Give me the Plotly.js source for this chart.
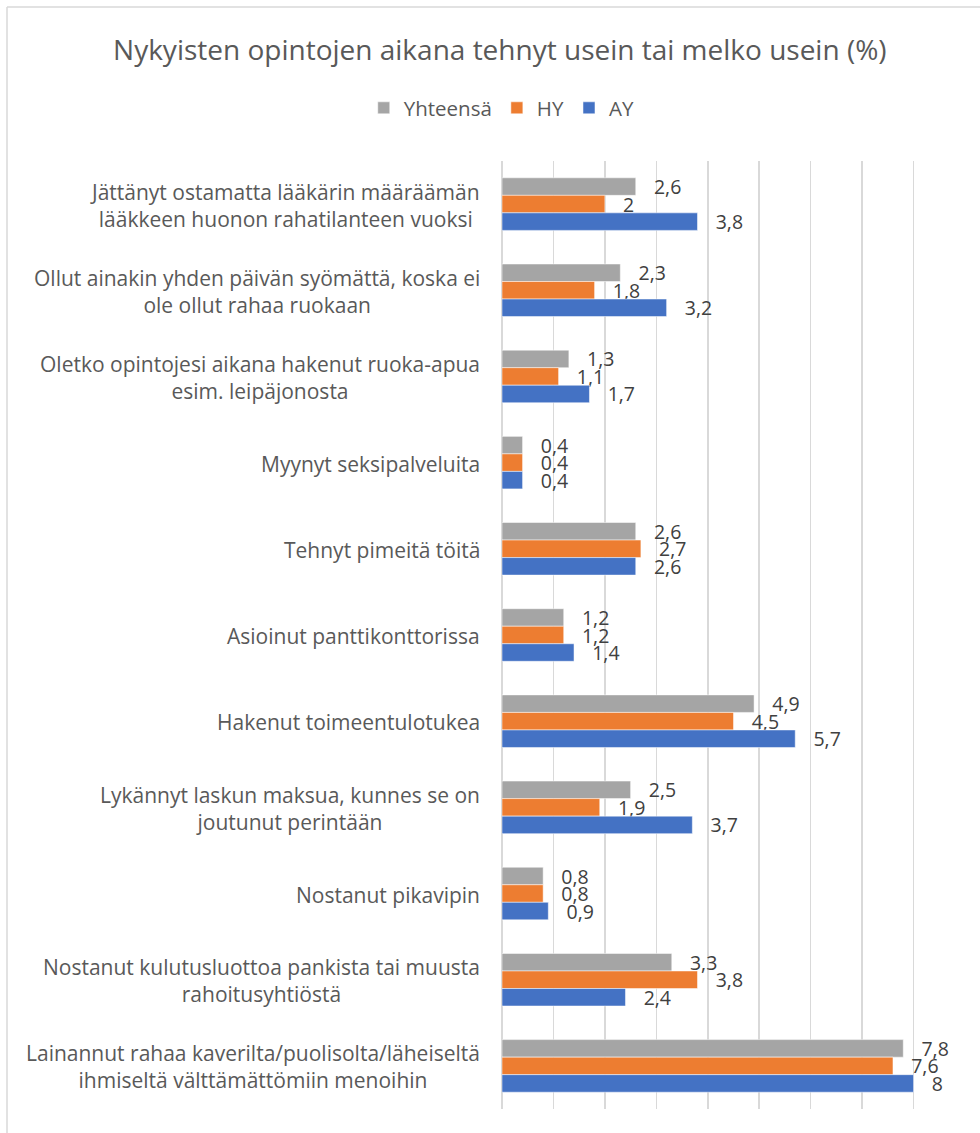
<!DOCTYPE html>
<html><head><meta charset="utf-8">
<script src="https://cdn.plot.ly/plotly-3.0.1.min.js"></script>
<style>html,body{margin:0;padding:0;background:#fff;}#chart{width:980px;height:1133px;}</style>
</head><body><div id="chart"></div>
<script>
var categories = [
  "Jättänyt ostamatta lääkärin määräämän<br>lääkkeen huonon rahatilanteen vuoksi",
  "Ollut ainakin yhden päivän syömättä, koska ei<br>ole ollut rahaa ruokaan",
  "Oletko opintojesi aikana hakenut ruoka-apua<br>esim. leipäjonosta",
  "Myynyt seksipalveluita",
  "Tehnyt pimeitä töitä",
  "Asioinut panttikonttorissa",
  "Hakenut toimeentulotukea",
  "Lykännyt laskun maksua, kunnes se on<br>joutunut perintään",
  "Nostanut pikavipin",
  "Nostanut kulutusluottoa pankista tai muusta<br>rahoitusyhtiöstä",
  "Lainannut rahaa kaverilta/puolisolta/läheiseltä<br>ihmiseltä välttämättömiin menoihin"
];
var seriesNames = ["Yhteensä", "HY", "AY"];
var yhteensa = [2.6, 2.3, 1.3, 0.4, 2.6, 1.2, 4.9, 2.5, 0.8, 3.3, 7.8];
var hy       = [2.0, 1.8, 1.1, 0.4, 2.7, 1.2, 4.5, 1.9, 0.8, 3.8, 7.6];
var ay       = [3.8, 3.2, 1.7, 0.4, 2.6, 1.4, 5.7, 3.7, 0.9, 2.4, 8.0];
var colors = ["#A5A5A5", "#ED7D31", "#4472C4"];

var FONT = "'Open Sans', Lato, sans-serif";
function fmt(v){ return "\u00a0\u00a0\u00a0" + String(v).replace(".", ","); }

var seriesVals = [yhteensa, hy, ay];
var traces = seriesVals.map(function(vals, i){
  return {
    type: "bar", orientation: "h",
    name: seriesNames[i],
    x: vals, y: categories,
    marker: {color: colors[i], line: {color: "#ffffff", width: 0.5}},
    text: vals.map(fmt),
    textposition: "outside",
    constraintext: "none",
    cliponaxis: false,
    textfont: {family: FONT, size: 19.5, color: "#404040"},
    hoverinfo: "none"
  };
});

var W = 980, H = 1133, ml = 502, mr = 15, mt = 161, mb = 24;
var pw = W - ml - mr, ph = H - mt - mb;
function px2x(p){ return (p - ml) / pw; }
function py2y(p){ return 1 - (p - mt) / ph; }

var annotations = categories.map(function(c){
  return {
    xref: "paper", yref: "y", x: 0, y: c,
    xanchor: "right", yanchor: "middle", xshift: -20, yshift: -1,
    align: "center", showarrow: false, text: c,
    font: {family: FONT, size: 21, color: "#595959"}
  };
});

var layout = {
  width: W, height: H,
  margin: {l: ml, r: mr, t: mt, b: mb},
  paper_bgcolor: "#ffffff", plot_bgcolor: "#ffffff",
  barmode: "group", bargap: 0.39, bargroupgap: 0,
  showlegend: true,
  title: {
    text: "Nykyisten opintojen aikana tehnyt usein tai melko usein (%)",
    font: {family: FONT, size: 28, color: "#595959"},
    xref: "container", x: 0.51, xanchor: "center",
    yref: "container", y: 1 - 50 / H, yanchor: "middle"
  },
  legend: {
    orientation: "h", xref: "container", yref: "container",
    x: 0.512, xanchor: "center", y: 1 - 108 / H, yanchor: "middle",
    font: {family: FONT, size: 20.5, color: "#595959"},
    traceorder: "normal", itemwidth: 30
  },
  xaxis: {
    range: [0, 9], dtick: 1, tick0: 0,
    showgrid: true, gridcolor: "#D9D9D9", gridwidth: 1.5,
    zeroline: true, zerolinecolor: "#D9D9D9", zerolinewidth: 1.5,
    showticklabels: false, ticks: "", showline: false, fixedrange: true
  },
  yaxis: {
    type: "category", autorange: "reversed",
    showticklabels: false, ticks: "", showgrid: false, zeroline: false, showline: false
  },
  annotations: annotations,
  shapes: [
    {type: "line", xref: "paper", yref: "paper", x0: px2x(7), x1: px2x(W + 5), y0: py2y(7), y1: py2y(7), line: {color: "#D9D9D9", width: 1.5}},
    {type: "line", xref: "paper", yref: "paper", x0: px2x(7), x1: px2x(7), y0: py2y(7), y1: py2y(H + 5), line: {color: "#D9D9D9", width: 1.5}}
  ]
};

Plotly.newPlot("chart", traces, layout, {displayModeBar: false, staticPlot: true});
</script>
</body></html>
